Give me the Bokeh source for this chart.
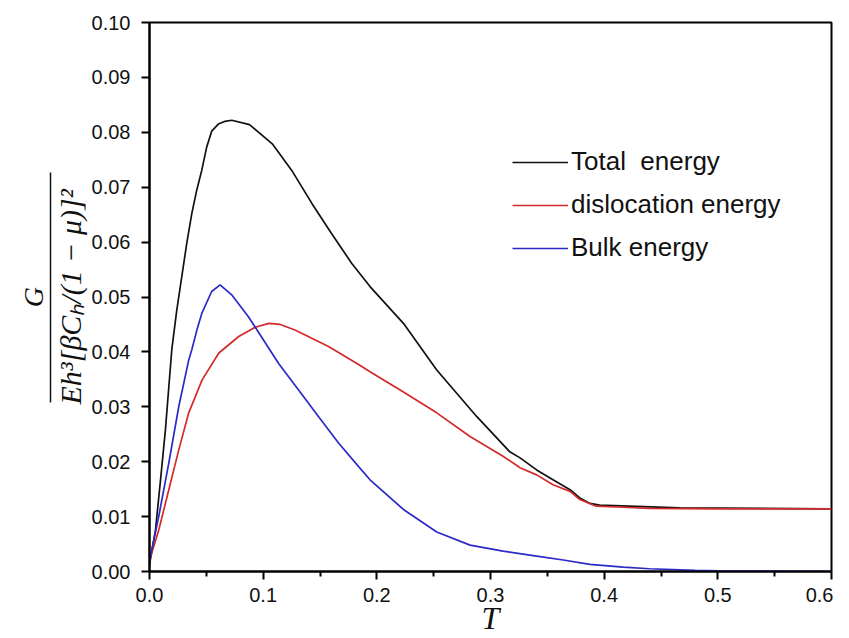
from bokeh.plotting import figure
from bokeh.models import (FixedTicker, Legend, LegendItem, LinearAxis,
                          Range1d, CustomJSTickFormatter)
from bokeh.embed import file_html
from bokeh.resources import INLINE

# ---- data ----
total_T = [0.000, 0.0053, 0.0097, 0.014, 0.0196, 0.024, 0.0284, 0.0328, 0.0372,
           0.0416, 0.046, 0.0503, 0.0547, 0.0606, 0.0665, 0.0723, 0.088, 0.108,
           0.125, 0.143, 0.160, 0.178, 0.194, 0.2234, 0.2527, 0.288, 0.317,
           0.326, 0.3406, 0.355, 0.370, 0.3786, 0.3874, 0.396, 0.4665, 0.600]
total_G = [0.0012, 0.0076, 0.0167, 0.0258, 0.0404, 0.0476, 0.0537, 0.0598, 0.0652,
           0.0695, 0.0731, 0.0773, 0.0802, 0.0815, 0.0820, 0.0822, 0.0814, 0.0779,
           0.0731, 0.0670, 0.0616, 0.0561, 0.0519, 0.0452, 0.0367, 0.0282, 0.0218,
           0.0207, 0.0185, 0.0167, 0.0149, 0.0134, 0.0124, 0.0121, 0.0116, 0.0114]

disl_T = [0.000, 0.0082, 0.017, 0.0258, 0.0345, 0.0463, 0.061, 0.0785, 0.093,
          0.105, 0.115, 0.128, 0.1575, 0.184, 0.194, 0.2234, 0.2527, 0.282,
          0.311, 0.326, 0.3406, 0.355, 0.370, 0.3786, 0.393, 0.4167, 0.440,
          0.500, 0.600]
disl_G = [0.0020, 0.0076, 0.0149, 0.0222, 0.0289, 0.0349, 0.0398, 0.0428, 0.0445,
          0.0452, 0.0450, 0.0440, 0.0410, 0.0377, 0.0364, 0.0327, 0.0289, 0.0246,
          0.0210, 0.0189, 0.0176, 0.0158, 0.0146, 0.0131, 0.0119, 0.0117, 0.0115,
          0.0114, 0.0114]

bulk_T = [0.000, 0.0082, 0.017, 0.0258, 0.0345, 0.0372, 0.042, 0.046, 0.0547,
          0.0621, 0.0723, 0.087, 0.0946, 0.1136, 0.131, 0.1488, 0.1663, 0.184,
          0.194, 0.2234, 0.2527, 0.282, 0.311, 0.3406, 0.364, 0.3874, 0.4167,
          0.440, 0.480, 0.500, 0.600]
bulk_G = [0.0020, 0.0101, 0.0198, 0.0301, 0.0385, 0.0404, 0.0442, 0.0470, 0.0510,
          0.0522, 0.0504, 0.0464, 0.0440, 0.0379, 0.0331, 0.0282, 0.0234, 0.0191,
          0.0167, 0.0113, 0.0072, 0.0048, 0.0037, 0.0028, 0.0021, 0.0013, 0.0008,
          0.0005, 0.0002, 0.0001, 0.0000]

series_names = ["Total  energy", "dislocation energy", "Bulk energy"]
series_colors = ["#111111", "#d42a2a", "#2a2ac4"]

x_ticks = [0.0, 0.1, 0.2, 0.3, 0.4, 0.5, 0.6]
x_minor = [0.05, 0.15, 0.25, 0.35, 0.45, 0.55]
y_ticks = [0.00, 0.01, 0.02, 0.03, 0.04, 0.05, 0.06, 0.07, 0.08, 0.09, 0.10]

x_label = "T"
y_label_num = "G"
y_label_den = "Eh³[βCₕ/(1 − μ)]²"

p = figure(width=833, height=638, output_backend="svg", toolbar_location=None,
           x_range=Range1d(0, 0.6), y_range=Range1d(0, 0.10),
           min_border_left=149, min_border_right=2, min_border_top=22,
           min_border_bottom=66)
p.background_fill_color = "white"
p.border_fill_color = "white"
p.grid.visible = False
p.outline_line_color = "black"
p.outline_line_width = 2

for ax in (p.xaxis, p.yaxis):
    ax.axis_line_width = 2
    ax.major_tick_line_width = 2
    ax.minor_tick_line_width = 2
    ax.major_tick_in = 0
    ax.minor_tick_in = 0
    ax.major_tick_out = 8
    ax.minor_tick_out = 5
    ax.major_label_text_font = "Liberation Sans"
    ax.major_label_text_font_size = "20px"
    ax.major_label_text_color = "#111111"
    ax.axis_label_text_font = "Liberation Serif"
    ax.axis_label_text_font_style = "italic"
    ax.axis_label_text_color = "#111111"

p.xaxis.ticker = FixedTicker(ticks=x_ticks, minor_ticks=x_minor)
p.yaxis.ticker = FixedTicker(ticks=y_ticks)
p.xaxis.major_label_standoff = 8
p.yaxis.major_label_standoff = 11
p.xaxis.formatter = CustomJSTickFormatter(code="return tick.toFixed(1)")
p.yaxis.formatter = CustomJSTickFormatter(code="return tick.toFixed(2)")

p.xaxis.axis_label = x_label
p.xaxis.axis_label_text_font_size = "32px"
p.xaxis.axis_label_standoff = -5

p.yaxis.axis_label = y_label_den
p.yaxis.axis_label_text_font_size = "30px"
p.yaxis.axis_label_standoff = 2

# fraction bar + numerator: an extra left axis whose line is bounded
bar_axis = LinearAxis(bounds=(0.0307, 0.0727), ticker=FixedTicker(ticks=[]),
                      axis_line_width=1.5, axis_line_color="#111111",
                      major_tick_out=0, minor_tick_out=0,
                      major_label_text_font_size="0px",
                      axis_label=y_label_num,
                      axis_label_text_font="Liberation Serif",
                      axis_label_text_font_style="italic",
                      axis_label_text_font_size="28px",
                      axis_label_text_color="#111111",
                      axis_label_standoff=2)
p.add_layout(bar_axis, "left")

renderers = []
for T, G, c in [(total_T, total_G, series_colors[0]),
                (disl_T, disl_G, series_colors[1]),
                (bulk_T, bulk_G, series_colors[2])]:
    renderers.append(p.line(T, G, line_color=c, line_width=1.7))

legend = Legend(items=[LegendItem(label=n, renderers=[r])
                       for n, r in zip(series_names, renderers)],
                location=(363, 308))
legend.border_line_alpha = 0
legend.background_fill_alpha = 0
legend.padding = 0
legend.margin = 0
legend.glyph_width = 56
legend.glyph_height = 28
legend.label_height = 28
legend.spacing = 12
legend.label_standoff = 3
legend.label_text_font = "Liberation Sans"
legend.label_text_font_size = "26px"
legend.label_text_color = "#111111"
p.add_layout(legend, "center")

open("out.html", "w").write(file_html(p, INLINE))
